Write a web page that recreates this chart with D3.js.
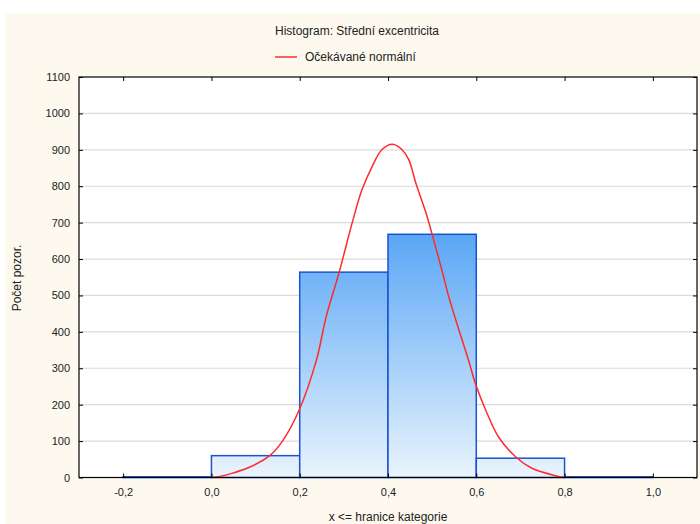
<!DOCTYPE html>
<html>
<head>
<meta charset="utf-8">
<script src="https://cdn.jsdelivr.net/npm/d3@7"></script>
<style>
  html, body { margin: 0; padding: 0; background: #ffffff; }
  svg { display: block; font-family: "Liberation Sans", Arial, sans-serif; }
</style>
</head>
<body>
<svg id="chart" width="700" height="524"></svg>
<script>
// Histogram bins (upper bound x <= edge) and counts
const binStarts = [-0.2, 0.0, 0.2, 0.4, 0.6, 0.8];
const binEnds   = [0.0, 0.2, 0.4, 0.6, 0.8, 1.0];
const binCounts = [2, 60, 564, 668, 53, 2];

// Expected normal curve, sampled points
const curveX = [0.0, 0.019, 0.048, 0.086, 0.132, 0.161, 0.199, 0.238, 0.260, 0.289, 0.319, 0.341,
                0.364, 0.386, 0.41, 0.432, 0.447, 0.463, 0.486, 0.499, 0.522, 0.538, 0.560,
                0.583, 0.598, 0.621, 0.650, 0.689, 0.725, 0.779, 0.801];
const curveY = [0, 3, 12, 28, 60, 100, 186, 323, 442, 562, 700, 790,
                854, 900, 915, 900, 873, 809, 727, 672, 570, 495, 408,
                320, 258, 186, 112, 57, 26, 5, 0];

const xTicks = [-0.2, 0.0, 0.2, 0.4, 0.6, 0.8, 1.0];
const yTicks = [0, 100, 200, 300, 400, 500, 600, 700, 800, 900, 1000, 1100];

const titleText = "Histogram: Střední excentricita";
const legendText = "Očekávané normální";
const xLabel = "x <= hranice kategorie";
const yLabel = "Počet pozor.";

const svg = d3.select("#chart");
const W = 700, H = 524;
const plot = { left: 79, top: 77, right: 697, bottom: 477.5 };

// Cream chart background
svg.append("rect").attr("x", 5).attr("y", 13).attr("width", W - 5).attr("height", H - 13)
  .attr("fill", "#fdf9ef");

const x = d3.scaleLinear().domain([-0.3, 1.1]).range([plot.left, plot.right]);
const y = d3.scaleLinear().domain([0, 1100]).range([plot.bottom, plot.top]);

// Plot area
svg.append("rect").attr("x", plot.left).attr("y", plot.top)
  .attr("width", plot.right - plot.left).attr("height", plot.bottom - plot.top)
  .attr("fill", "#ffffff");

// Horizontal gridlines
svg.append("g").selectAll("line")
  .data(yTicks.filter(d => d > 0 && d < 1100))
  .join("line")
  .attr("x1", plot.left).attr("x2", plot.right)
  .attr("y1", d => y(d)).attr("y2", d => y(d))
  .attr("stroke", "#dadada").attr("stroke-width", 1.2);

// Vertical gradient shared by all bars
const defs = svg.append("defs");
const grad = defs.append("linearGradient").attr("id", "barFill")
  .attr("gradientUnits", "userSpaceOnUse")
  .attr("x1", 0).attr("x2", 0).attr("y1", y(690)).attr("y2", y(0));
grad.append("stop").attr("offset", "0%").attr("stop-color", "#55a4f5");
grad.append("stop").attr("offset", "100%").attr("stop-color", "#eaf4fd");

const bins = binCounts.map((c, i) => ({ x0: binStarts[i], x1: binEnds[i], n: c }));

svg.append("g").selectAll("rect")
  .data(bins)
  .join("rect")
  .attr("x", d => x(d.x0))
  .attr("y", d => y(d.n))
  .attr("width", d => x(d.x1) - x(d.x0))
  .attr("height", d => y(0) - y(d.n))
  .attr("fill", "url(#barFill)")
  .attr("stroke", "#1a52cf")
  .attr("stroke-width", 1.5);

// Expected normal curve
const pts = curveX.map((v, i) => [v, curveY[i]]);
svg.append("path")
  .datum(pts)
  .attr("fill", "none")
  .attr("stroke", "#ff2a2a")
  .attr("stroke-width", 1.5)
  .attr("d", d3.line().x(d => x(d[0])).y(d => y(d[1])).curve(d3.curveCatmullRom.alpha(0.5)));

// Axes (ticks point inward, mirrored on top and right)
const fmtX = d => d3.format(".1f")(d).replace(".", ",").replace("−", "-");
const fmtY = d3.format("d");
const styleAxis = g => {
  g.select(".domain").remove();
  g.selectAll("line").attr("stroke", "#000");
  g.selectAll("text").attr("fill", "#222").style("font-size", "11px")
    .style("font-family", "'Liberation Sans', Arial, sans-serif");
};

svg.append("g").attr("transform", `translate(${plot.left},0)`)
  .call(d3.axisLeft(y).tickValues(yTicks).tickSizeInner(-4).tickSizeOuter(0).tickPadding(9).tickFormat(fmtY))
  .call(styleAxis);
svg.append("g").attr("transform", `translate(${plot.right},0)`)
  .call(d3.axisRight(y).tickValues(yTicks).tickSizeInner(-4).tickSizeOuter(0).tickFormat(""))
  .call(styleAxis);
svg.append("g").attr("transform", `translate(0,${plot.bottom})`)
  .call(d3.axisBottom(x).tickValues(xTicks).tickSizeInner(-4).tickSizeOuter(0).tickPadding(11).tickFormat(fmtX))
  .call(styleAxis);
svg.append("g").attr("transform", `translate(0,${plot.top})`)
  .call(d3.axisTop(x).tickValues(xTicks).tickSizeInner(-4).tickSizeOuter(0).tickFormat(""))
  .call(styleAxis);

// Plot frame
svg.append("rect").attr("x", plot.left).attr("y", plot.top)
  .attr("width", plot.right - plot.left).attr("height", plot.bottom - plot.top)
  .attr("fill", "none").attr("stroke", "#000").attr("stroke-width", 1.2);

// Title and legend
svg.append("text").attr("x", 357).attr("y", 35).attr("text-anchor", "middle")
  .style("font-size", "12px").attr("fill", "#222").text(titleText);
svg.append("line").attr("x1", 275).attr("x2", 297).attr("y1", 57).attr("y2", 57)
  .attr("stroke", "#ff2a2a").attr("stroke-width", 1.5);
svg.append("text").attr("x", 305).attr("y", 61)
  .style("font-size", "12px").attr("fill", "#222").text(legendText);

// Axis labels
svg.append("text").attr("x", 388).attr("y", 521).attr("text-anchor", "middle")
  .style("font-size", "12px").attr("fill", "#222").text(xLabel);
svg.append("text").attr("transform", "translate(21,278) rotate(-90)").attr("text-anchor", "middle")
  .style("font-size", "12px").attr("fill", "#222").text(yLabel);
</script>
</body>
</html>
